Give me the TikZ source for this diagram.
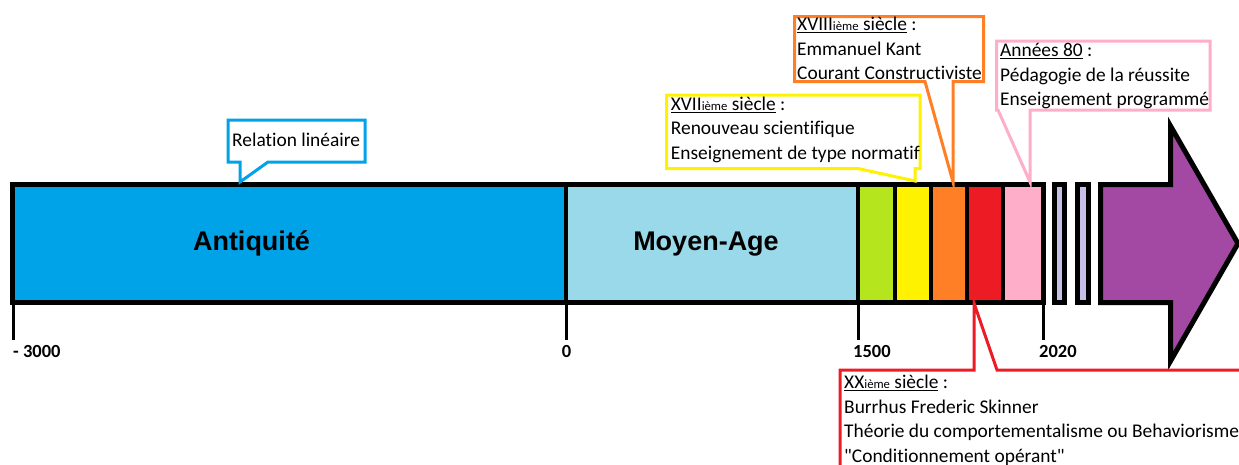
\documentclass[tikz,border=0pt]{standalone}
\usepackage{fontspec}
\setmainfont{Carlito}[Ligatures={TeX,NoCommon}]
\newfontfamily\erafont{Liberation Sans}
\definecolor{antique}{HTML}{00A2E8}
\definecolor{medieval}{HTML}{99D9EA}
\definecolor{lime}{HTML}{B5E61D}
\definecolor{sun}{HTML}{FFF200}
\definecolor{amber}{HTML}{FF7F27}
\definecolor{scarlet}{HTML}{ED1C24}
\definecolor{blush}{HTML}{FFAEC9}
\definecolor{lavender}{HTML}{C8BFE7}
\definecolor{plum}{HTML}{A349A4}
\newcommand{\ieme}{{\fontsize{12.7}{12.7}\selectfont ième}}
\newcommand{\firstline}{\rule{0pt}{15pt}}
\begin{document}
\begin{tikzpicture}[x=1pt,y=-1pt,
  outline/.style={draw=#1,line width=3pt},
  band/.style={draw=black,fill=#1,line width=5pt},
  note/.style={anchor=north west,inner sep=0pt,align=left,font=\fontsize{19.4}{24.5}\selectfont},
  era/.style={anchor=base,font=\erafont\bfseries\fontsize{27}{27}\selectfont},
  year/.style={anchor=base west,inner sep=0pt,font=\bfseries\fontsize{18.5}{18.5}\selectfont}]
\useasboundingbox (0,0) rectangle (1239,464);
\clip (0,0) rectangle (1239,464);
\fill[antique] (12.5,184.5) rectangle (566,302.5);
\fill[medieval] (566,184.5) rectangle (858,302.5);
\foreach \a/\b/\c in {858/895/lime,895/931/sun,931/967/amber,967/1003/scarlet,1003/1043/blush}
  \fill[\c] (\a,184.5) rectangle (\b,302.5);
\foreach \x in {566,858,895,931,967,1003}
  \draw[line width=4pt] (\x,184.5) -- (\x,302.5);
\draw[line width=5pt] (12.5,184.5) rectangle (1043,302.5);
\draw[band=lavender] (1054.5,184.5) rectangle (1064.5,302.5);
\draw[band=lavender] (1077.5,184.5) rectangle (1088.5,302.5);
\draw[band=plum] (1100.5,184.5) -- (1170.5,184.5) -- (1170.5,126) -- (1238,243.5)
  -- (1170.5,361) -- (1170.5,302.5) -- (1100.5,302.5) -- cycle;
\node[era] (antiquity) at (251.5,250) {Antiquité};
\node[era] (middleage) at (706,250) {Moyen-Age};
\foreach \x in {13,566,858,1043}
  \draw[line width=3pt] (\x,302.5) -- (\x,340);
\node[year] (y3000) at (13,357) {- 3000};
\node[year,anchor=base] (y0) at (566.5,357) {0};
\node[year] (y1500) at (853,357) {1500};
\node[year] (y2020) at (1039,357) {2020};
\coordinate (tiplin) at (240,182);
\coordinate (tipxvii) at (915,181);
\coordinate (tipxviii) at (953,182);
\coordinate (tipeighty) at (1030,182);
\coordinate (tipxx) at (974,303);
\draw[outline=antique] (228,120) -- (365,120) -- (365,162) -- (268,162) -- (tiplin)
  -- (240,162) -- (228,162) -- cycle;
\node[note,anchor=base west] (linear) at (232,146.7) {Relation linéaire};
\draw[outline=sun] (666.5,95) -- (920,95) -- (920,168.5) -- (915,168.5) -- (tipxvii)
  -- (858,168.5) -- (666.5,168.5) -- cycle;
\node[note] (xvii) at (670.7,95) {\firstline\underline{XVII\ieme{} siècle} :\\Renouveau scientifique\\Enseignement de type normatif};
\draw[outline=amber] (794.5,16.5) -- (983.5,16.5) -- (983.5,81.5) -- (953,81.5) -- (tipxviii)
  -- (925,81.5) -- (794.5,81.5) -- cycle;
\node[note] (xviii) at (797,15.7) {\firstline\underline{XVIII\ieme{} siècle} :\\Emmanuel Kant\\Courant Constructiviste};
\draw[outline=blush] (996.5,41) -- (1210,41) -- (1210,110) -- (1030,110) -- (tipeighty)
  -- (998,110) -- (996.5,110) -- cycle;
\node[note] (eighties) at (1000,41.7) {\firstline\underline{Années 80} :\\Pédagogie de la réussite\\Enseignement programmé};
\draw[outline=scarlet] (840,480) -- (840,370) -- (974,370) -- (tipxx) -- (997,370) -- (1250,370);
\node[note] (xx) at (844,373.3) {\firstline\underline{XX\ieme{} siècle} :\\Burrhus Frederic Skinner\\Théorie du comportementalisme ou Behaviorisme\\\textquotedbl Conditionnement opérant\textquotedbl};
\end{tikzpicture}
\end{document}
